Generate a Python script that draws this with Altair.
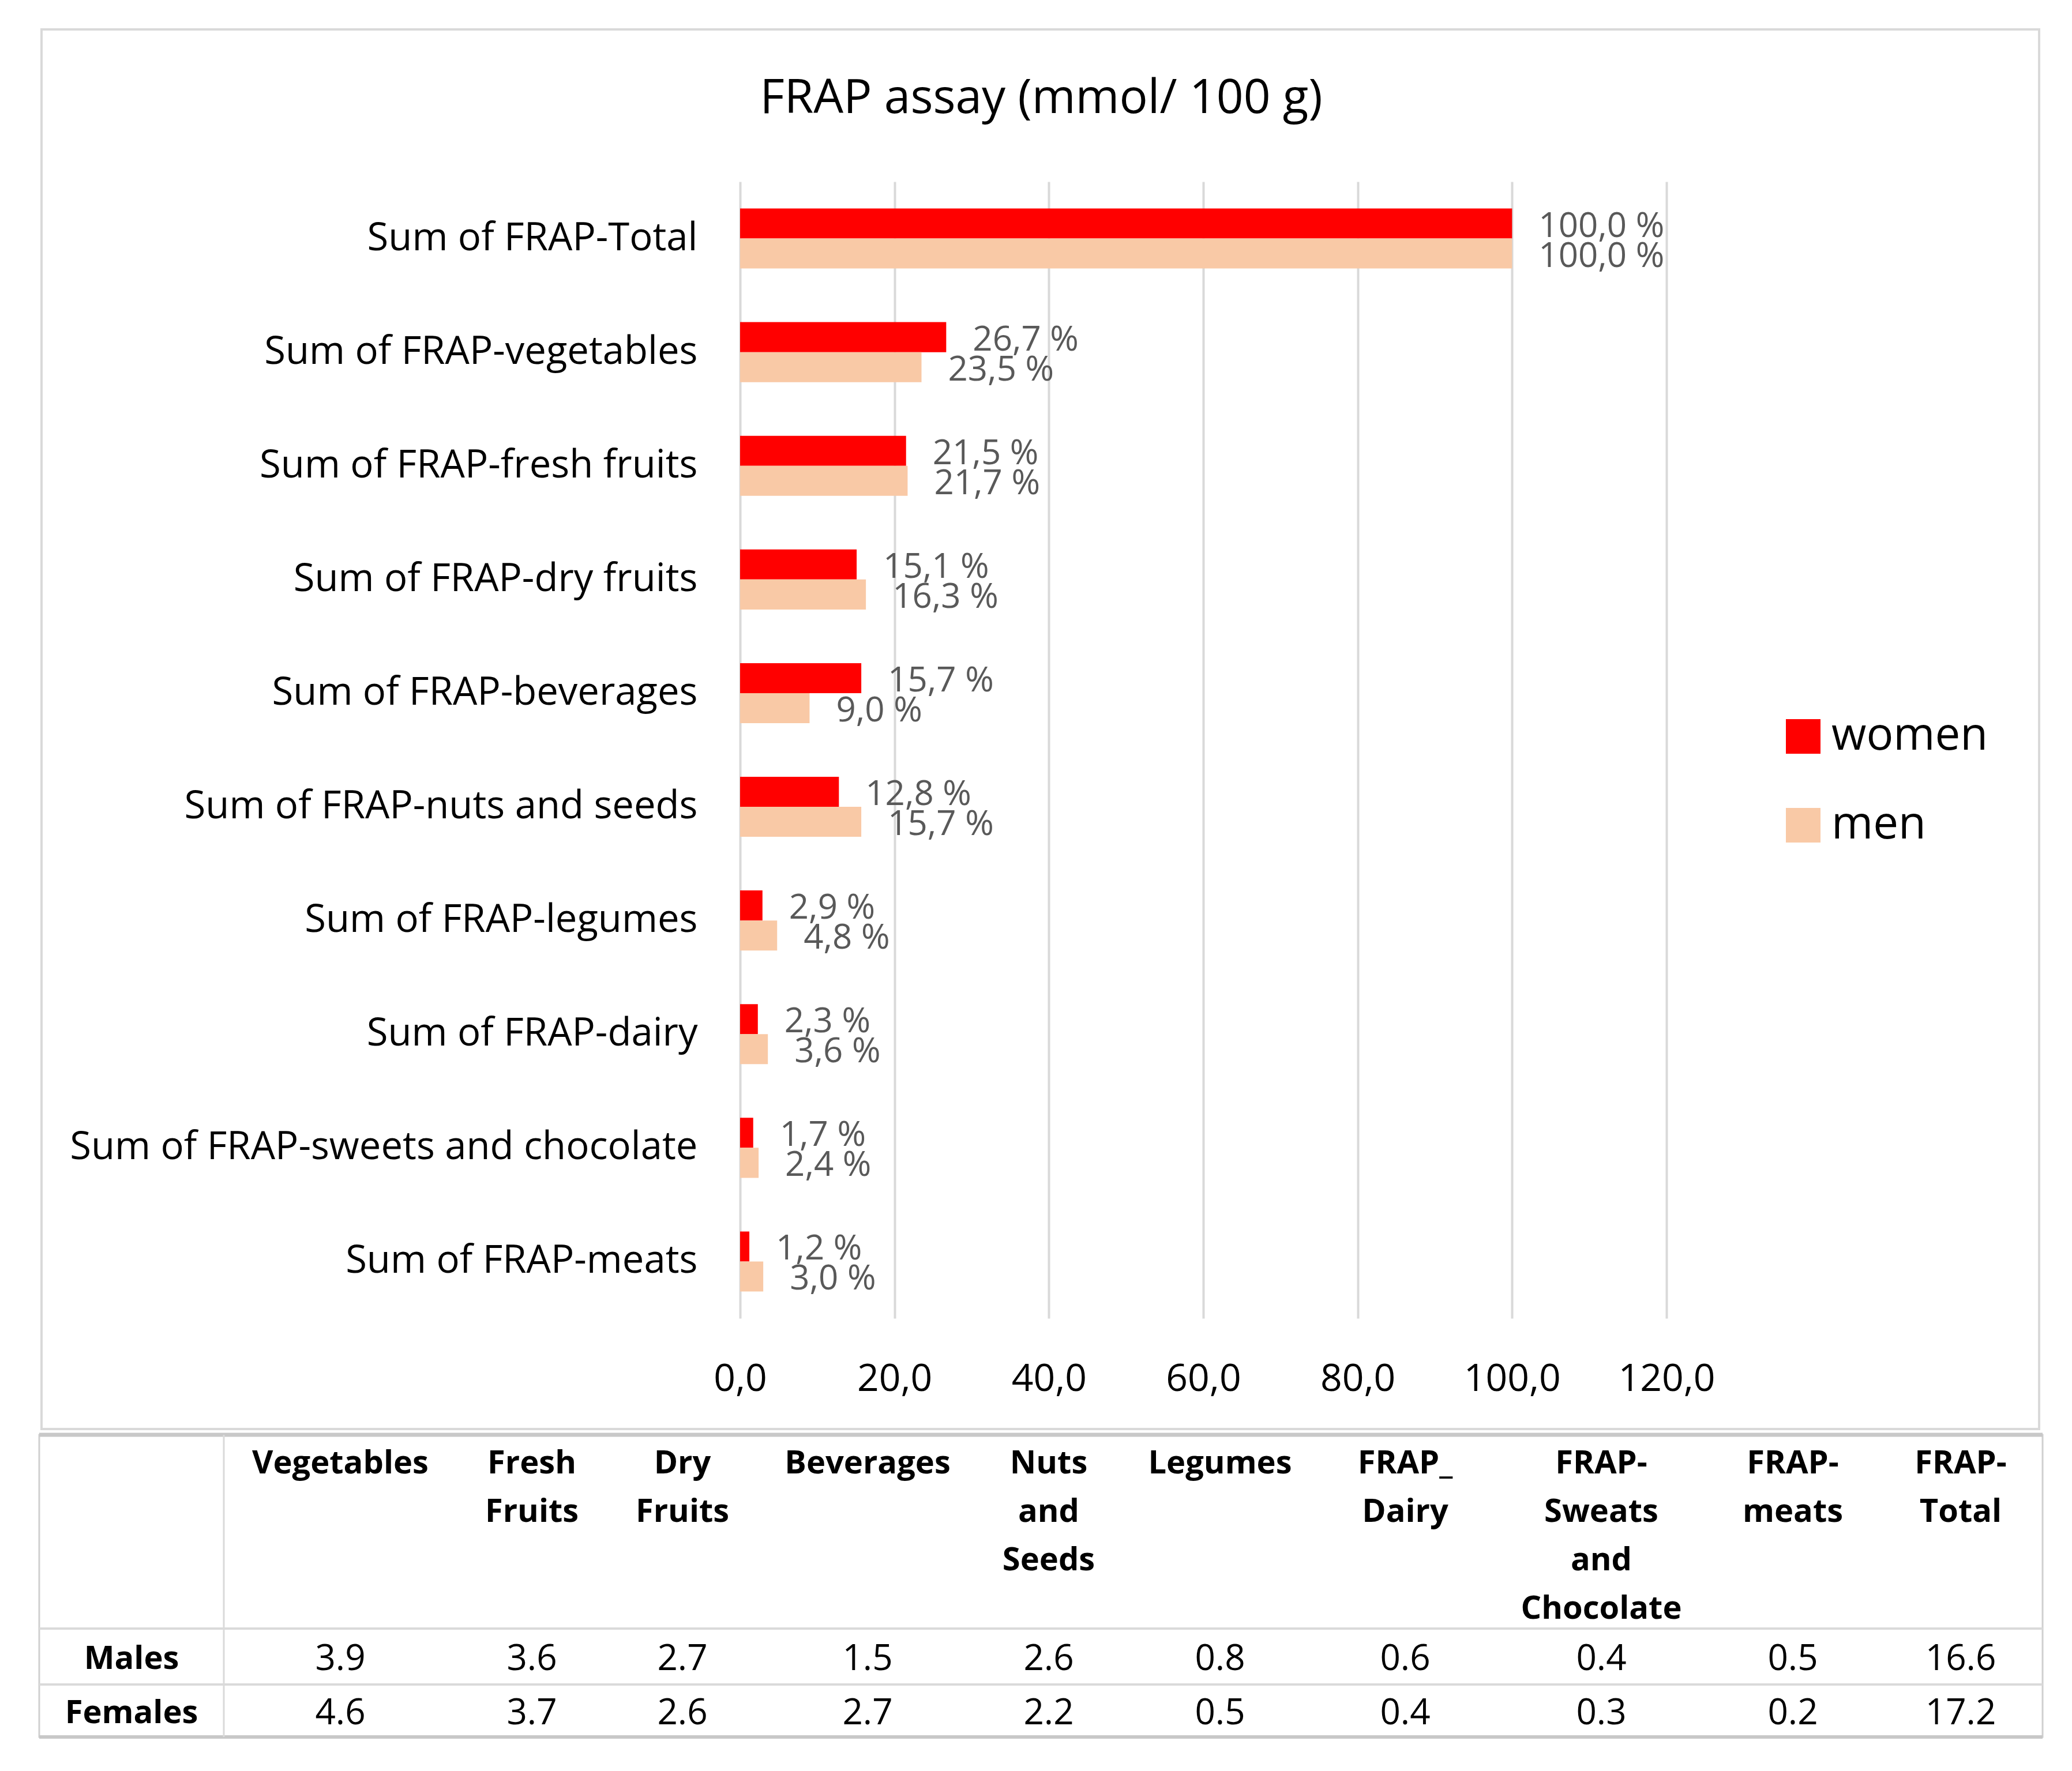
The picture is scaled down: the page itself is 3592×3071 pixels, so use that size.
import altair as alt
import pandas as pd

# ---------------- data ----------------
categories = [
    "Sum of FRAP-Total",
    "Sum of FRAP-vegetables",
    "Sum of FRAP-fresh fruits",
    "Sum of FRAP-dry fruits",
    "Sum of FRAP-beverages",
    "Sum of FRAP-nuts and seeds",
    "Sum of FRAP-legumes",
    "Sum of FRAP-dairy",
    "Sum of FRAP-sweets and chocolate",
    "Sum of FRAP-meats",
]
women = [100.0, 26.7, 21.5, 15.1, 15.7, 12.8, 2.9, 2.3, 1.7, 1.2]
men = [100.0, 23.5, 21.7, 16.3, 9.0, 15.7, 4.8, 3.6, 2.4, 3.0]
series = ["women", "men"]
series_colors = ["#FF0000", "#F9C9A6"]
x_ticks = [0, 20, 40, 60, 80, 100, 120]

table_headers = [
    "Vegetables", "Fresh\nFruits", "Dry\nFruits", "Beverages", "Nuts\nand\nSeeds",
    "Legumes", "FRAP_\nDairy", "FRAP-\nSweats\nand\nChocolate", "FRAP-\nmeats", "FRAP-\nTotal",
]
row_labels = ["Males", "Females"]
males_row = [3.9, 3.6, 2.7, 1.5, 2.6, 0.8, 0.6, 0.4, 0.5, 16.6]
females_row = [4.6, 3.7, 2.6, 2.7, 2.2, 0.5, 0.4, 0.3, 0.2, 17.2]

# ---------------- tables for the library ----------------
bar_rows = []
for c, w, m in zip(categories, women, men):
    bar_rows.append({"category": c, "sex": "women", "value": w})
    bar_rows.append({"category": c, "sex": "men", "value": m})
bars_df = pd.DataFrame(bar_rows)

header_df = pd.DataFrame({"col": list(range(1, len(table_headers) + 1)), "row": 0, "text": table_headers})
label_df = pd.DataFrame({"col": 0, "row": [1, 2], "text": row_labels})
val_rows = []
for r, vals in ((1, males_row), (2, females_row)):
    for i, v in enumerate(vals):
        val_rows.append({"col": i + 1, "row": r, "v": v})
values_df = pd.DataFrame(val_rows)
one = pd.DataFrame({"k": [0]})

# ---------------- layout constants (pixels, relative to plot origin) ----------------
W, H = 1606, 1971
FONT = "Open Sans"
col_range = [-1055, -693, -361, -100, 221, 535, 832, 1153, 1493, 1825, 2116]
row_range = [2196, 2562, 2656]

# ---------------- main bar chart ----------------
base = alt.Chart(bars_df).encode(
    x=alt.X(
        "value:Q",
        scale=alt.Scale(domain=[0, 120], nice=False, zero=True),
        axis=alt.Axis(
            values=x_ticks,
            labelExpr="replace(format(datum.value, '.1f'), '.', ',')",
            grid=True, gridColor="#D9D9D9", gridWidth=4,
            ticks=False, tickSize=0, domain=False, labelFlush=False,
            labelOverlap=False,
            labelFont=FONT, labelFontSize=66, labelColor="#000000",
            labelPadding=73, title=None,
        ),
    ),
    y=alt.Y(
        "category:N",
        sort=categories,
        scale=alt.Scale(paddingInner=0.472, paddingOuter=0.236),
        axis=alt.Axis(
            ticks=False, tickSize=0, domain=False, grid=False,
            labelFont=FONT, labelFontSize=67, labelColor="#000000",
            labelPadding=74, labelLimit=3000, title=None,
        ),
    ),
    yOffset=alt.YOffset("sex:N", sort=series, scale=alt.Scale(domain=series)),
)

bars = base.mark_bar().encode(
    color=alt.Color(
        "sex:N",
        scale=alt.Scale(domain=series, range=series_colors),
        legend=alt.Legend(
            title=None, orient="none", legendX=1804, legendY=923,
            symbolType="square", symbolSize=3600, symbolStrokeWidth=0,
            labelFont=FONT, labelFontSize=78, labelColor="#000000",
            labelOffset=10, rowPadding=76, padding=0, labelLimit=1000,
        ),
    )
)

value_labels = base.transform_calculate(
    label="replace(format(datum.value, '.1f'), '.', ',') + ' %'"
).mark_text(
    align="left", baseline="middle", dx=46, dy=5, font=FONT, fontSize=60, color="#595959"
).encode(text="label:N")

outer_box = alt.Chart(one).mark_rect(fillOpacity=0, stroke="#D9D9D9", strokeWidth=4).encode(
    x=alt.value(-1211), x2=alt.value(2252), y=alt.value(-264), y2=alt.value(2163)
)

title_text = alt.Chart(one).mark_text(
    text="FRAP assay (mmol/ 100 g)", font=FONT, fontSize=82, align="center",
    baseline="middle", color="#000000",
).encode(x=alt.value(522), y=alt.value(-144))

main = alt.layer(outer_box, bars, value_labels, title_text)

# ---------------- table ----------------
tx = alt.X("col:Q", scale=alt.Scale(domain=list(range(11)), range=col_range, nice=False, zero=False), axis=None)
ty = alt.Y("row:Q", scale=alt.Scale(domain=[0, 1, 2], range=row_range, nice=False, zero=False), axis=None)

header_text = alt.Chart(header_df).mark_text(
    lineBreak="\n", baseline="top", align="center", font=FONT, fontWeight="bold",
    fontSize=56, lineHeight=84, color="#000000",
).encode(x=tx, y=ty, text="text:N")

row_label_text = alt.Chart(label_df).mark_text(
    baseline="middle", align="center", font=FONT, fontWeight="bold", fontSize=56, color="#000000"
).encode(x=tx, y=ty, text="text:N")

value_text = alt.Chart(values_df).transform_calculate(
    t="format(datum.v, '.1f')"
).mark_text(
    baseline="middle", align="center", font=FONT, fontSize=62, color="#000000"
).encode(x=tx, y=ty, text="t:N")

tbl_box = alt.Chart(one).mark_rect(fillOpacity=0, stroke="#D0D0D0", strokeWidth=3).encode(
    x=alt.value(-1215), x2=alt.value(2258), y=alt.value(2173), y2=alt.value(2697)
)
rule_top = alt.Chart(one).mark_rule(color="#C8C8C8", strokeWidth=7).encode(
    x=alt.value(-1215), x2=alt.value(2258), y=alt.value(2173)
)
rule_bottom = alt.Chart(one).mark_rule(color="#C8C8C8", strokeWidth=6).encode(
    x=alt.value(-1215), x2=alt.value(2258), y=alt.value(2697)
)
rule_head = alt.Chart(one).mark_rule(color="#DADADA", strokeWidth=4).encode(
    x=alt.value(-1215), x2=alt.value(2258), y=alt.value(2509)
)
rule_mid = alt.Chart(one).mark_rule(color="#DADADA", strokeWidth=4).encode(
    x=alt.value(-1215), x2=alt.value(2258), y=alt.value(2606)
)
rule_col = alt.Chart(one).mark_rule(color="#DADADA", strokeWidth=3).encode(
    x=alt.value(-895), y=alt.value(2173), y2=alt.value(2697)
)

table = alt.layer(
    tbl_box, rule_top, rule_bottom, rule_head, rule_mid, rule_col,
    header_text, row_label_text, value_text,
)

chart = alt.layer(main, table).resolve_scale(
    x="independent", y="independent"
).properties(
    width=W, height=H,
    padding={"left": 56, "top": 41, "right": 5, "bottom": 5},
).configure(
    font=FONT, background="#FFFFFF"
).configure_view(strokeWidth=0)

chart.save("out.html", embed_options={"renderer": "svg", "actions": False})
